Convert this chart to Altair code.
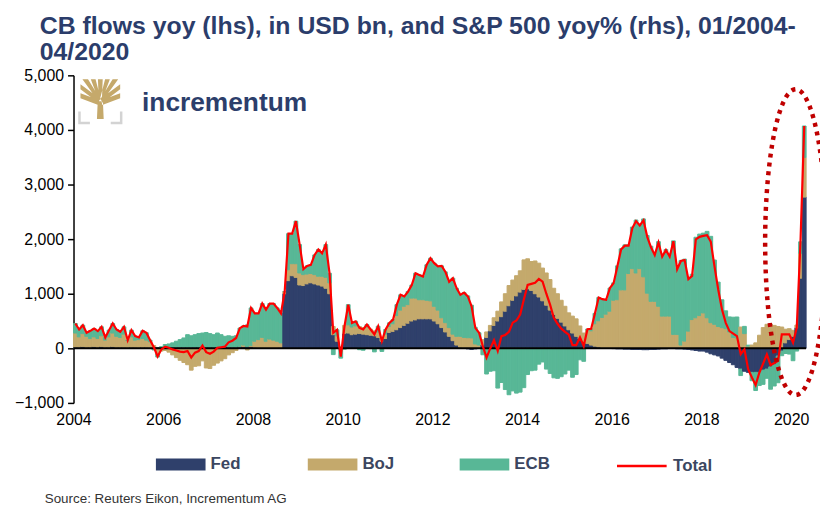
import math
import altair as alt
import pandas as pd

# ---------------- data (USD bn, yoy change, monthly 01/2004 - 04/2020) ----------------
fed = [
    20, 20, 30, 20, 20, 30, 20, 30, 20, 20, 30, 20,            # 2004
    20, 20, 10, 20, 20, 10, 20, 20, 10, 10, 10, 10,            # 2005
    20, 20, 20, 20, 20, 20, 20, 20, 20, 20, 20, 20,            # 2006
    20, 20, 20, 20, 20, 20, 20, 20, 30, 30, 30, 30,            # 2007
    20, 10, 10, 0, 0, 0, 0, 10, 1000, 1240, 1330, 1300,        # 2008
    1160, 1150, 1180, 1200, 1180, 1160, 1140, 1100, 1000, 250, 130, 0,   # 2009
    270, 280, 250, 260, 270, 260, 250, 240, 230, 200, 130, 180,          # 2010
    290, 310, 340, 380, 420, 460, 500, 520, 540, 540, 540, 540,          # 2011
    500, 450, 380, 300, 220, 140, 60, 20, 0, -10, -20, -10,              # 2012
    0, 60, 200, 320, 420, 500, 580, 680, 780, 880, 960, 1030,            # 2013
    1080, 1090, 1060, 1000, 940, 870, 790, 700, 620, 550, 480, 410,      # 2014
    340, 280, 220, 170, 120, 90, 60, 40, 25, 15, 5, 0,                   # 2015
    -5, -10, -10, -15, -15, -20, -20, -20, -25, -25, -20, -20,           # 2016
    -15, -10, -10, -5, -5, -10, -10, -15, -20, -30, -40, -50,            # 2017
    -50, -70, -100, -120, -140, -180, -220, -260, -300, -350, -380, -420,  # 2018
    -440, -440, -440, -440, -400, -380, -340, -300, -140, -50, 100, 160,   # 2019
    220, 376, 1285, 2770,                                                  # 2020
]
boj = [
    260, 190, 240, 200, 160, 180, 160, 200, 130, 190, 250, 200,
    180, 240, 130, 190, 130, 150, 160, 130, 110, 40, -100, -50,
    -40, -70, -120, -170, -220, -260, -300, -400, -330, -320, -230, -360,
    -370, -310, -270, -230, -190, -120, -80, -40, 0, 30, -30, 20,
    110, 150, 190, 130, 170, 150, 130, 90, 40, 200, 220, 250,
    220, 200, 180, 170, 170, 160, 180, 200, 200, 150, 100, 30,
    150, 150, 140, 150, 130, 120, 140, 110, 90, 100, 60, 80,
    110, 140, 260, 320, 350, 340, 420, 400, 350, 350, 340, 330,
    270, 250, 180, 170, 160, 120, 160, 200, 200, 194, 190, 80,
    60, 100, 100, 100, 140, 180, 270, 320, 370, 370, 370, 390,
    540, 550, 530, 600, 620, 600, 590, 560, 480, 450, 400, 360,
    310, 310, 320, 240, 160, 250, 260, 410, 480, 550, 620, 680,
    880, 890, 1070, 1070, 1370, 1460, 1380, 1460, 1310, 1010, 860, 860,
    770, 590, 590, 590, 255, 255, 60, 133, 315, 527, 560, 600,
    648, 560, 470, 440, 400, 380, 360, 300, 200, 190, 390, 270,
    40, 60, 100, 240, 380, 440, 440, 420, 400, 390, 250, 200,
    110, 50, 455, 727,
]
ecb = [
    175, 135, 154, 65, 141, 154, 135, 164, 50, 123, 175, 125,
    103, 134, 10, 123, 74, 40, 141, 135, 30, -30, -60, 20,
    50, 60, 80, 110, 140, 170, 230, 210, 230, 250, 260, 270,
    250, 230, 260, 230, 200, 210, 200, 210, 340, 350, 400, 690,
    510, 480, 620, 580, 650, 670, 610, 540, 0, 660, 550, 780,
    520, 100, 150, 160, 360, 490, 420, 600, 175, -115, 110, -180,
    -15, 370, 75, 85, -25, -35, 46, -5, -65, 105, -57, 85,
    66, 77, 200, 280, 180, 240, 240, 455, 455, 425, 650, 780,
    790, 800, 950, 930, 840, 1025, 880, 760, 820, 766, 600, 305,
    225, -118, -470, -420, -410, -728, -626, -755, -850, -780, -820, -802,
    -720, -480, -410, -400, -290, -250, -380, -460, -540, -550, -520, -470,
    -400, -530, -480, -210, -238, 10, 37, 190, 425, 335, 265, 423,
    319, 620, 752, 825, 525, 760, 970, 810, 1060, 1057, 1010, 869,
    1184, 1099, 1220, 1094, 1713, 1203, 1550, 1500, 972, 830, 1474, 1492,
    1462, 1582, 1581, 1177, 813, 509, 327, 275, 370, 384, -119, 132,
    18, -153, -333, -242, -260, -169, -409, -390, -490, -85, -95, -105,
    -227, -50, 211, 575,
]
series = ["Fed", "BoJ", "ECB"]
colors = ["#2F406B", "#C4A96C", "#58B796"]
year_ticks = [2004, 2006, 2008, 2010, 2012, 2014, 2016, 2018, 2020]
y_ticks = [-1000, 0, 1000, 2000, 3000, 4000, 5000]
start_year = 2004
n = len(fed)

# ---------------- tables ----------------
rows = []
for i in range(n):
    t0 = start_year + i / 12
    for k, (name, vals) in enumerate(zip(series, [fed, boj, ecb])):
        rows.append({"i": i, "t0": t0, "t1": t0 + 1 / 12, "series": name,
                     "order": k, "value": vals[i]})
bars_df = pd.DataFrame(rows)
tot_df = pd.DataFrame({
    "t": [start_year + (i + 0.5) / 12 for i in range(n)],
    "total": [fed[i] + boj[i] + ecb[i] for i in range(n)],
    "series": ["Total"] * n,
})

# dotted annotation ellipse around 2020 (data coordinates)
ecx, ecy, erx, ery = 2020.1, 1945, 0.68, 2800
ell_df = pd.DataFrame({
    "k": list(range(121)),
    "ex": [ecx + erx * math.cos(2 * math.pi * k / 120) for k in range(121)],
    "ey": [ecy + ery * math.sin(2 * math.pi * k / 120) for k in range(121)],
})

FONT = "Liberation Sans"
xscale = alt.Scale(domain=[start_year, start_year + n / 12], nice=False, zero=False)
yscale = alt.Scale(domain=[-1000, 5000], nice=False, zero=False)

xaxis = alt.Axis(values=year_ticks, format="d", labelFontSize=16, labelFont=FONT,
                 labelColor="black", domain=False, ticks=False, grid=False,
                 labelFlush=False, labelPadding=9, title=None)
yaxis = alt.Axis(values=y_ticks, format=",.0f", labelFontSize=16, labelFont=FONT,
                 labelColor="black", domainColor="black", domainWidth=1.5,
                 tickColor="black", tickWidth=1.5, tickSize=6, labelPadding=4,
                 labelFlush=False, grid=False, title=None)

bar_scale = alt.Scale(domain=series, range=colors)
bars = alt.Chart(bars_df).transform_stack(
    stack="value", groupby=["i"], as_=["y0", "y1"],
    sort=[alt.SortField("order", order="ascending")],
).mark_rect(strokeWidth=1.0).encode(
    x=alt.X("t0:Q", scale=xscale, axis=xaxis),
    x2="t1:Q",
    y=alt.Y("y0:Q", scale=yscale, axis=yaxis),
    y2="y1:Q",
    color=alt.Color("series:N", scale=bar_scale,
                    legend=alt.Legend(
                        orient="none", legendX=83, legendY=367, direction="horizontal",
                        columns=3, gridAlign="all", title=None,
                        symbolType="M-1,-0.24H1V0.24H-1Z", symbolSize=2500,
                        symbolStrokeWidth=0, labelFontSize=17, labelFont=FONT,
                        labelFontWeight="bold", labelColor="#3B4660",
                        labelOffset=5, columnPadding=62)),
    stroke=alt.Stroke("series:N", scale=bar_scale, legend=None),
)

zero = alt.Chart(pd.DataFrame({"z": [0]})).mark_rule(color="black", strokeWidth=2).encode(
    y=alt.Y("z:Q", scale=yscale)
)

line = alt.Chart(tot_df).mark_line(strokeWidth=2.2).encode(
    x=alt.X("t:Q", scale=xscale),
    y=alt.Y("total:Q", scale=yscale),
    stroke=alt.Stroke("series:N", scale=alt.Scale(domain=["Total"], range=["#FF0000"]),
                      legend=alt.Legend(
                          orient="none", legendX=546, legendY=367, title=None,
                          symbolType="stroke", symbolSize=2500, symbolStrokeWidth=2.5,
                          labelFontSize=17, labelFont=FONT, labelFontWeight="bold",
                          labelColor="#3B4660", labelOffset=5)),
)

ellipse = alt.Chart(ell_df).mark_line(
    color="#C00000", strokeWidth=4.5, strokeDash=[4, 5]
).encode(
    x=alt.X("ex:Q", scale=xscale),
    y=alt.Y("ey:Q", scale=yscale),
    order="k:Q",
)

one = pd.DataFrame({"a": [0]})
tree_path = (
    "M-0.17,1 L-0.13,0.1 L0.13,0.1 L0.17,1 Z "
    "M-0.1,0.3 L-1,-0.05 L-1,-0.3 L-0.05,0.05 Z "
    "M-0.1,0.18 L-1,-0.5 L-1,-0.75 L-0.05,-0.05 Z "
    "M-0.1,0.1 L-0.9,-1 L-0.62,-1 L0,0 Z "
    "M-0.08,0.05 L-0.48,-1 L-0.24,-1 L0.02,0 Z "
    "M-0.08,0 L-0.12,-1 L0.12,-1 L0.08,0 Z "
    "M0.08,0.05 L0.48,-1 L0.24,-1 L-0.02,0 Z "
    "M0.1,0.1 L0.9,-1 L0.62,-1 L0,0 Z "
    "M0.1,0.18 L1,-0.5 L1,-0.75 L0.05,-0.05 Z "
    "M0.1,0.3 L1,-0.05 L1,-0.3 L0.05,0.05 Z"
)
tree = alt.Chart(one).mark_point(
    shape=tree_path, filled=True, fill="#C5A96B", size=1600, strokeWidth=0, opacity=1
).encode(x=alt.value(27), y=alt.value(24))
brackets = alt.Chart(one).mark_point(
    shape="M-1,0.45 V1 H-0.5 M1,0.45 V1 H0.5", filled=False, stroke="#D3D3D3",
    strokeWidth=2.5, size=1764, opacity=1
).encode(x=alt.value(27), y=alt.value(27))
logo_text = alt.Chart(one).mark_text(
    text="incrementum", align="left", baseline="alphabetic", fontSize=26.5,
    font=FONT, fontWeight="bold", color="#2C3E6B"
).encode(x=alt.value(69), y=alt.value(36))
source = alt.Chart(one).mark_text(
    text="Source: Reuters Eikon, Incrementum AG", align="left", baseline="alphabetic",
    fontSize=13.5, font=FONT, color="#333333"
).encode(x=alt.value(-29), y=alt.value(431))

chart = alt.layer(bars, zero, line, ellipse, tree, brackets, logo_text, source).properties(
    width=738, height=330,
    padding={"left": 66, "top": 66, "right": 14, "bottom": 102},
    autosize=alt.AutoSizeParams(type="none"),
    title=alt.Title(
        ["CB flows yoy (lhs), in USD bn, and S&P 500 yoy% (rhs), 01/2004-", "04/2020"],
        anchor="start", frame="group", fontSize=25, font=FONT, fontWeight="bold",
        color="#2B3D6B", lineHeight=27, dx=-34, offset=2, orient="top",
    ),
).resolve_scale(color="independent", stroke="independent").configure_view(stroke=None)

chart.save("out.html", embed_options={"renderer": "svg", "actions": False})
